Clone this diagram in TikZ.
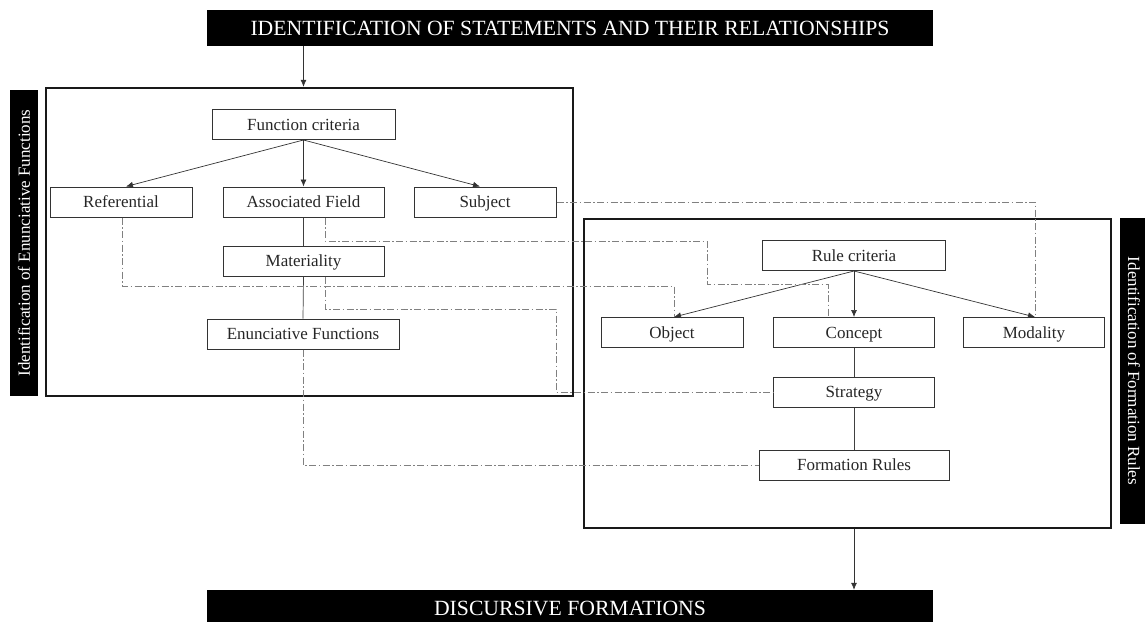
\documentclass[tikz,border=0pt]{standalone}
\usepackage{fontspec}
\setmainfont{Liberation Serif}
\usetikzlibrary{arrows.meta}
\begin{document}
\begin{tikzpicture}[x=1pt,y=-1pt,
  box/.style={draw=black!80, line width=1pt, minimum height=30pt, inner sep=0pt, text height=11.3pt, text depth=0pt, font=\fontsize{17}{20}\selectfont, text=black!85},
  frame/.style={draw=black!90, line width=2.3pt, inner sep=0pt},
  banner/.style={fill=black, text=white, inner sep=0pt, font=\fontsize{21.7}{24}\selectfont},
  sidebar/.style={fill=black, text=white, inner sep=0pt, font=\fontsize{17}{20}\selectfont},
  arr/.style={draw=black!80, line width=0.7pt, -{Latex[length=7pt,width=6pt]}},
  link/.style={draw=black!75, line width=0.7pt},
  dd/.style={draw=black!50, line width=0.7pt, dash pattern=on 7pt off 2.5pt on 1.5pt off 2.5pt}]
\useasboundingbox (0,0) rectangle (1145,621);

% banners and side bars
\node[banner, minimum width=726pt, minimum height=36pt] (topb) at (570,28) {IDENTIFICATION OF STATEMENTS AND THEIR RELATIONSHIPS};
\node[banner, minimum width=726pt, minimum height=36pt] (botb) at (570,608) {DISCURSIVE FORMATIONS};
\node[sidebar, minimum width=306pt, minimum height=28pt, rotate=90] (lbar) at (24,243) {Identification of Enunciative Functions};
\node[sidebar, minimum width=306pt, minimum height=28pt, rotate=-90] (rbar) at (1134,371) {Identification of Formation Rules};

% frames
\node[frame, minimum width=527pt, minimum height=308pt] (lf) at (309.5,242) {};
\node[frame, minimum width=527pt, minimum height=309pt] (rf) at (847.5,373.5) {};

% left boxes
\node[box, minimum width=183pt] (fc) at (303.5,124.5) {Function criteria};
\node[box, minimum width=142pt] (ref) at (121,202) {Referential};
\node[box, minimum width=161pt] (af) at (303.5,202) {Associated Field};
\node[box, minimum width=142pt] (subj) at (485,202) {Subject};
\node[box, minimum width=161pt] (mat) at (303.5,261) {Materiality};
\node[box, minimum width=192pt] (ef) at (303,334) {Enunciative Functions};

% right boxes
\node[box, minimum width=183pt] (rc) at (854,255.5) {Rule criteria};
\node[box, minimum width=142pt] (obj) at (672,332.5) {Object};
\node[box, minimum width=161pt] (con) at (854,332.5) {Concept};
\node[box, minimum width=141pt] (mod) at (1034,332.5) {Modality};
\node[box, minimum width=161pt] (str) at (854,392) {Strategy};
\node[box, minimum width=190pt] (fr) at (854,465) {Formation Rules};

% main arrows
\draw[arr] (topb.south -| fc) -- (lf.north -| fc);
\draw[arr] (rf.south -| rc) -- (botb.north -| rc);

\draw[arr] (fc.south) -- ([xshift=5pt]ref.north);
\draw[arr] (fc.south) -- (af.north);
\draw[arr] (fc.south) -- ([xshift=-5pt]subj.north);
\draw[link] (af.south) -- (mat.north);
\draw[link] (mat.south) -- (ef.north);

\draw[arr] (rc.south) -- ([xshift=2pt]obj.north);
\draw[arr] (rc.south) -- (con.north);
\draw[arr] (rc.south) -- ([xshift=1pt]mod.north);
\draw[link] (con.south) -- (str.north);
\draw[link] (str.south) -- (fr.north);

% dash-dot cross links
\draw[dd] (subj.east) -| ([xshift=1pt]mod.north);
\draw[dd] ([xshift=21.5pt]af.south) |- (707,241) -- (707,284) -| ([xshift=-26pt]con.north);
\draw[dd] ([xshift=1pt]ref.south) |- (674,286) -- ([xshift=2pt]obj.north);
\draw[dd] ([xshift=21.5pt]mat.south) |- (556,309) |- (str.west);
\draw[dd] (ef.south) |- (fr.west);
\end{tikzpicture}
\end{document}
